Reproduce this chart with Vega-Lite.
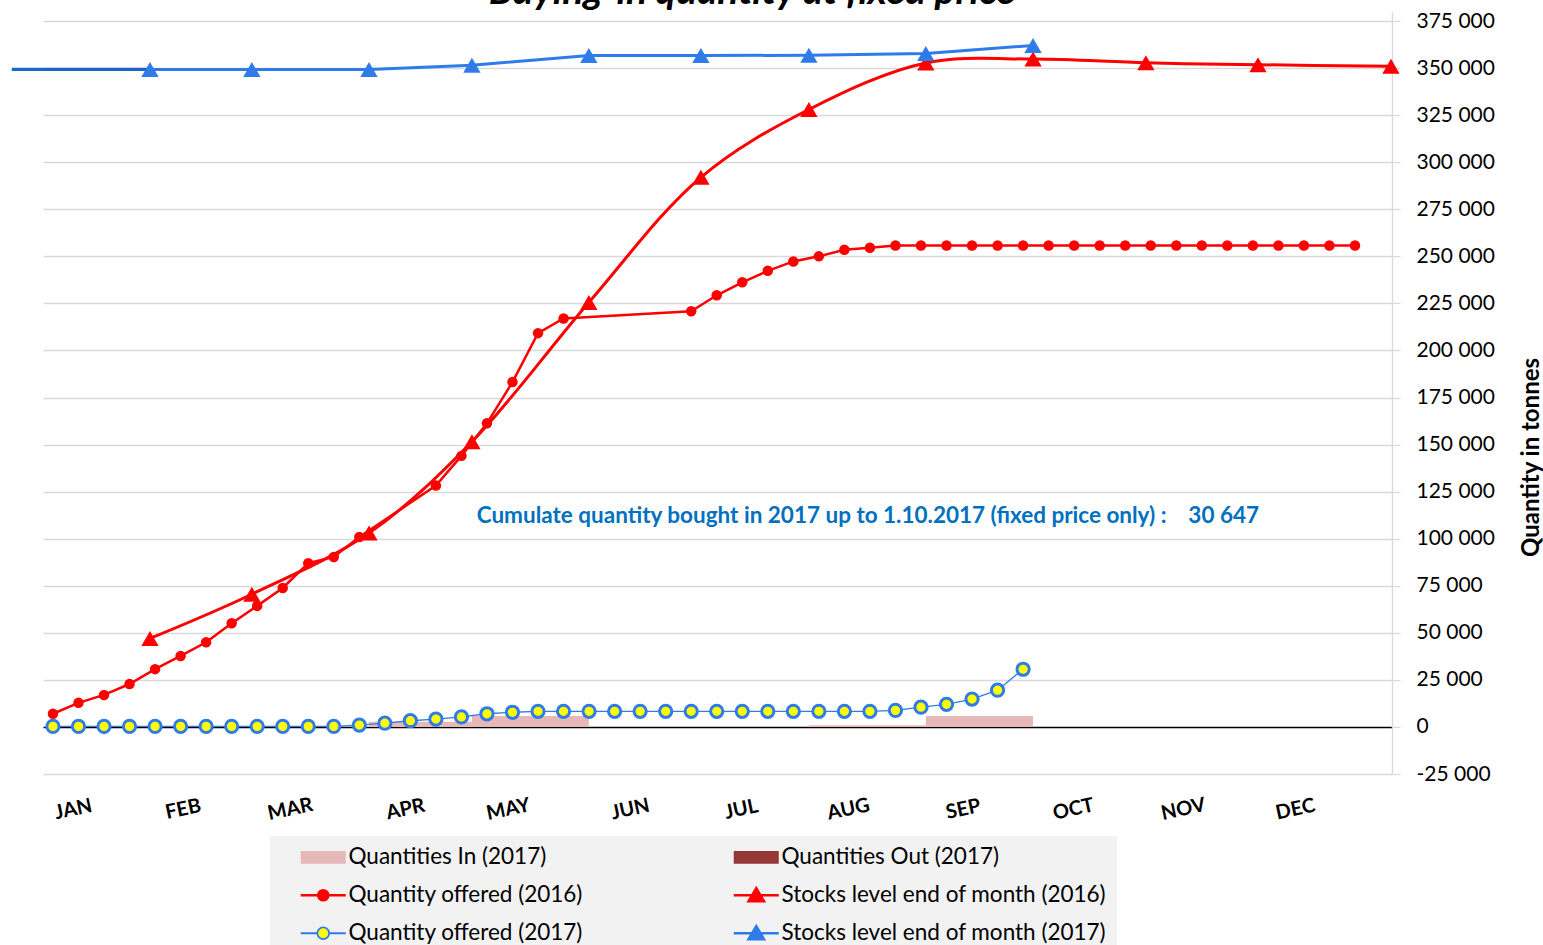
{
  "$schema": "https://vega.github.io/schema/vega-lite/v6.json",
  "autosize": {"type": "none"},
  "width": 1349,
  "height": 762,
  "padding": {"left": 43, "top": 12, "right": 151, "bottom": 171},
  "background": "white",
  "config": {"font": "Lato", "view": {"stroke": null}},
  "datasets": {
    "bars": [
      {"series": "Quantities In (2017)", "w": 13.38, "w2": 17.41, "v": 2700},
      {"series": "Quantities In (2017)", "w": 17.41, "w2": 21.99, "v": 5800},
      {"series": "Quantities In (2017)", "w": 30.61, "w2": 35.19, "v": 900},
      {"series": "Quantities In (2017)", "w": 35.19, "w2": 39.39, "v": 5800}
    ],
    "lines": [
      {"series": "Quantity offered (2016)", "w": 1, "v": 7000},
      {"series": "Quantity offered (2016)", "w": 2, "v": 12800},
      {"series": "Quantity offered (2016)", "w": 3, "v": 17000},
      {"series": "Quantity offered (2016)", "w": 4, "v": 22800},
      {"series": "Quantity offered (2016)", "w": 5, "v": 30700},
      {"series": "Quantity offered (2016)", "w": 6, "v": 37700},
      {"series": "Quantity offered (2016)", "w": 7, "v": 45000},
      {"series": "Quantity offered (2016)", "w": 8, "v": 55100},
      {"series": "Quantity offered (2016)", "w": 9, "v": 64300},
      {"series": "Quantity offered (2016)", "w": 10, "v": 73800},
      {"series": "Quantity offered (2016)", "w": 11, "v": 87000},
      {"series": "Quantity offered (2016)", "w": 12, "v": 90300},
      {"series": "Quantity offered (2016)", "w": 13, "v": 100900},
      {"series": "Quantity offered (2016)", "w": 16, "v": 128200},
      {"series": "Quantity offered (2016)", "w": 17, "v": 144000},
      {"series": "Quantity offered (2016)", "w": 18, "v": 161300},
      {"series": "Quantity offered (2016)", "w": 19, "v": 183200},
      {"series": "Quantity offered (2016)", "w": 20, "v": 209200},
      {"series": "Quantity offered (2016)", "w": 21, "v": 217000},
      {"series": "Quantity offered (2016)", "w": 26, "v": 220800},
      {"series": "Quantity offered (2016)", "w": 27, "v": 229300},
      {"series": "Quantity offered (2016)", "w": 28, "v": 236200},
      {"series": "Quantity offered (2016)", "w": 29, "v": 242300},
      {"series": "Quantity offered (2016)", "w": 30, "v": 247300},
      {"series": "Quantity offered (2016)", "w": 31, "v": 250000},
      {"series": "Quantity offered (2016)", "w": 32, "v": 253500},
      {"series": "Quantity offered (2016)", "w": 33, "v": 254600},
      {"series": "Quantity offered (2016)", "w": 34, "v": 255800},
      {"series": "Quantity offered (2016)", "w": 35, "v": 255800},
      {"series": "Quantity offered (2016)", "w": 36, "v": 255800},
      {"series": "Quantity offered (2016)", "w": 37, "v": 255800},
      {"series": "Quantity offered (2016)", "w": 38, "v": 255800},
      {"series": "Quantity offered (2016)", "w": 39, "v": 255800},
      {"series": "Quantity offered (2016)", "w": 40, "v": 255800},
      {"series": "Quantity offered (2016)", "w": 41, "v": 255800},
      {"series": "Quantity offered (2016)", "w": 42, "v": 255800},
      {"series": "Quantity offered (2016)", "w": 43, "v": 255800},
      {"series": "Quantity offered (2016)", "w": 44, "v": 255800},
      {"series": "Quantity offered (2016)", "w": 45, "v": 255800},
      {"series": "Quantity offered (2016)", "w": 46, "v": 255800},
      {"series": "Quantity offered (2016)", "w": 47, "v": 255800},
      {"series": "Quantity offered (2016)", "w": 48, "v": 255800},
      {"series": "Quantity offered (2016)", "w": 49, "v": 255800},
      {"series": "Quantity offered (2016)", "w": 50, "v": 255800},
      {"series": "Quantity offered (2016)", "w": 51, "v": 255800},
      {"series": "Quantity offered (2016)", "w": 52, "v": 255800},
      {"series": "Stocks level end of month (2016)", "w": 4.80, "v": 47000},
      {"series": "Stocks level end of month (2016)", "w": 8.79, "v": 70500},
      {"series": "Stocks level end of month (2016)", "w": 13.38, "v": 103000},
      {"series": "Stocks level end of month (2016)", "w": 17.41, "v": 151500},
      {"series": "Stocks level end of month (2016)", "w": 21.99, "v": 225500},
      {"series": "Stocks level end of month (2016)", "w": 26.38, "v": 292000},
      {"series": "Stocks level end of month (2016)", "w": 30.61, "v": 328000},
      {"series": "Stocks level end of month (2016)", "w": 35.19, "v": 352700},
      {"series": "Stocks level end of month (2016)", "w": 39.39, "v": 354800},
      {"series": "Stocks level end of month (2016)", "w": 43.81, "v": 352800},
      {"series": "Stocks level end of month (2016)", "w": 48.20, "v": 351800},
      {"series": "Stocks level end of month (2016)", "w": 53.41, "v": 351000},
      {"series": "Quantity offered (2017)", "w": 1, "v": 300},
      {"series": "Quantity offered (2017)", "w": 2, "v": 300},
      {"series": "Quantity offered (2017)", "w": 3, "v": 300},
      {"series": "Quantity offered (2017)", "w": 4, "v": 300},
      {"series": "Quantity offered (2017)", "w": 5, "v": 300},
      {"series": "Quantity offered (2017)", "w": 6, "v": 300},
      {"series": "Quantity offered (2017)", "w": 7, "v": 300},
      {"series": "Quantity offered (2017)", "w": 8, "v": 300},
      {"series": "Quantity offered (2017)", "w": 9, "v": 300},
      {"series": "Quantity offered (2017)", "w": 10, "v": 300},
      {"series": "Quantity offered (2017)", "w": 11, "v": 300},
      {"series": "Quantity offered (2017)", "w": 12, "v": 300},
      {"series": "Quantity offered (2017)", "w": 13, "v": 1000},
      {"series": "Quantity offered (2017)", "w": 14, "v": 2000},
      {"series": "Quantity offered (2017)", "w": 15, "v": 3300},
      {"series": "Quantity offered (2017)", "w": 16, "v": 4200},
      {"series": "Quantity offered (2017)", "w": 17, "v": 5300},
      {"series": "Quantity offered (2017)", "w": 18, "v": 7000},
      {"series": "Quantity offered (2017)", "w": 19, "v": 7800},
      {"series": "Quantity offered (2017)", "w": 20, "v": 8300},
      {"series": "Quantity offered (2017)", "w": 21, "v": 8300},
      {"series": "Quantity offered (2017)", "w": 22, "v": 8300},
      {"series": "Quantity offered (2017)", "w": 23, "v": 8300},
      {"series": "Quantity offered (2017)", "w": 24, "v": 8300},
      {"series": "Quantity offered (2017)", "w": 25, "v": 8300},
      {"series": "Quantity offered (2017)", "w": 26, "v": 8300},
      {"series": "Quantity offered (2017)", "w": 27, "v": 8300},
      {"series": "Quantity offered (2017)", "w": 28, "v": 8300},
      {"series": "Quantity offered (2017)", "w": 29, "v": 8300},
      {"series": "Quantity offered (2017)", "w": 30, "v": 8300},
      {"series": "Quantity offered (2017)", "w": 31, "v": 8300},
      {"series": "Quantity offered (2017)", "w": 32, "v": 8300},
      {"series": "Quantity offered (2017)", "w": 33, "v": 8300},
      {"series": "Quantity offered (2017)", "w": 34, "v": 8800},
      {"series": "Quantity offered (2017)", "w": 35, "v": 10500},
      {"series": "Quantity offered (2017)", "w": 36, "v": 12000},
      {"series": "Quantity offered (2017)", "w": 37, "v": 14800},
      {"series": "Quantity offered (2017)", "w": 38, "v": 19500},
      {"series": "Quantity offered (2017)", "w": 39, "v": 30647},
      {"series": "Stocks level end of month (2017)", "w": -0.61, "v": 349300},
      {"series": "Stocks level end of month (2017)", "w": 4.80, "v": 349300},
      {"series": "Stocks level end of month (2017)", "w": 8.79, "v": 349300},
      {"series": "Stocks level end of month (2017)", "w": 13.38, "v": 349300},
      {"series": "Stocks level end of month (2017)", "w": 17.41, "v": 351500},
      {"series": "Stocks level end of month (2017)", "w": 21.99, "v": 356700},
      {"series": "Stocks level end of month (2017)", "w": 26.38, "v": 356700},
      {"series": "Stocks level end of month (2017)", "w": 30.61, "v": 356800},
      {"series": "Stocks level end of month (2017)", "w": 35.19, "v": 357800},
      {"series": "Stocks level end of month (2017)", "w": 39.39, "v": 362000}
    ]
  },
  "layer": [
    {
      "data": {"name": "bars"},
      "mark": {"type": "rect"},
      "encoding": {
        "x": {
          "field": "w", "type": "quantitative", "title": null,
          "scale": {"domain": [0.61, 53.45], "nice": false, "zero": false},
          "axis": {
            "title": null,
            "values": [1.78, 6.09, 10.28, 14.79, 18.82, 23.6, 27.95, 32.14, 36.64, 40.95, 45.26, 49.65],
            "labelExpr": "datum.value < 4 ? 'JAN' : datum.value < 8 ? 'FEB' : datum.value < 12 ? 'MAR' : datum.value < 16 ? 'APR' : datum.value < 21 ? 'MAY' : datum.value < 25 ? 'JUN' : datum.value < 30 ? 'JUL' : datum.value < 34 ? 'AUG' : datum.value < 38 ? 'SEP' : datum.value < 43 ? 'OCT' : datum.value < 47 ? 'NOV' : 'DEC'",
            "labelAngle": -12, "labelAlign": "center", "labelBaseline": "middle", "labelPadding": 35,
            "labelFontSize": 20, "labelFontWeight": "bold", "labelColor": "#000000", "labelFont": "Lato",
            "domain": false, "ticks": false, "grid": false, "labelOverlap": false, "labelFlush": false, "labelBound": false
          }
        },
        "x2": {"field": "w2"},
        "y": {
          "field": "v", "type": "quantitative", "title": "Quantity in tonnes",
          "scale": {"domain": [-25000, 379800], "nice": false, "zero": false},
          "axis": {
            "orient": "right",
            "values": [-25000, 0, 25000, 50000, 75000, 100000, 125000, 150000, 175000, 200000, 225000, 250000, 275000, 300000, 325000, 350000, 375000],
            "labelExpr": "(datum.value < 0 ? '-' : '') + replace(format(abs(datum.value), ','), regexp(',', 'g'), ' ')",
            "labelFontSize": 21, "labelColor": "#000000", "labelFont": "Lato", "labelPadding": 16,
            "title": "Quantity in tonnes", "titleFontSize": 24, "titleFontWeight": "bold", "titleColor": "#000000", "titleFont": "Lato",
            "titleAngle": -90, "titleX": 139, "titleY": 445, "titleAlign": "center", "titleBaseline": "middle",
            "grid": true,
            "gridColor": {"condition": {"test": "datum.value === 0", "value": "#000000"}, "value": "#d9d9d9"},
            "gridWidth": {"condition": {"test": "datum.value === 0", "value": 1.6}, "value": 1.3},
            "domain": true, "domainColor": "#d9d9d9", "domainWidth": 1.3,
            "ticks": true, "tickColor": "#d9d9d9", "tickSize": 8, "tickWidth": 1.3
          }
        },
        "y2": {"datum": 0},
        "color": {
          "field": "series", "type": "nominal",
          "scale": {
            "domain": ["Quantities In (2017)", "Quantities Out (2017)", "Quantity offered (2016)", "Stocks level end of month (2016)", "Quantity offered (2017)", "Stocks level end of month (2017)"],
            "range": ["#e6b9b8", "#953735", "#ff0000", "#ff0000", "#ffff00", "#2f7bea"]
          },
          "legend": {
            "title": null, "orient": "none", "legendX": 227, "legendY": 824,
            "columns": 2, "direction": "horizontal", "fillColor": "#f2f2f2", "padding": 10,
            "symbolSize": 784, "symbolOffset": 32, "labelOffset": 14,
            "labelFontSize": 22.5, "labelColor": "#000000", "labelFont": "Lato", "labelLimit": 500,
            "columnPadding": 130, "rowPadding": 14,
            "encode": {
              "symbols": {
                "update": {
                  "shape": {"signal": "(datum.value === 'Quantities In (2017)' || datum.value === 'Quantities Out (2017)') ? 'M-1.607,-0.464H1.607V0.464H-1.607Z' : datum.value === 'Quantity offered (2016)' ? 'M-1.607,0H1.607M0.36,0A0.36,0.36,0,1,1,-0.36,0A0.36,0.36,0,1,1,0.36,0Z' : datum.value === 'Quantity offered (2017)' ? 'M-1.607,0H-0.42M0.42,0H1.607M0.42,0A0.42,0.42,0,1,1,-0.42,0A0.42,0.42,0,1,1,0.42,0Z' : 'M-1.607,0H1.607M0,-0.5L0.55,0.42L-0.55,0.42Z'"},
                  "size": {"value": 784},
                  "stroke": {"signal": "datum.value === 'Quantity offered (2017)' ? '#2f7bea' : scale('color', datum.value)"},
                  "strokeWidth": {"signal": "(datum.value === 'Quantities In (2017)' || datum.value === 'Quantities Out (2017)') ? 0 : datum.value === 'Quantity offered (2017)' ? 1.8 : 2.5"},
                  "opacity": {"value": 1},
                  "fillOpacity": {"value": 1},
                  "strokeOpacity": {"value": 1}
                }
              }
            }
          }
        }
      }
    },
    {
      "data": {"name": "lines"},
      "transform": [{"filter": "datum.series === 'Quantity offered (2016)'"}],
      "mark": {"type": "line", "color": "#ff0000", "strokeWidth": 2.5, "point": {"filled": true, "size": 110, "color": "#ff0000", "opacity": 1}},
      "encoding": {
        "x": {"field": "w", "type": "quantitative", "title": null},
        "y": {"field": "v", "type": "quantitative", "title": "Quantity in tonnes"}
      }
    },
    {
      "data": {"name": "lines"},
      "transform": [{"filter": "datum.series === 'Stocks level end of month (2016)'"}],
      "mark": {"type": "line", "color": "#ff0000", "strokeWidth": 3, "interpolate": "catmull-rom", "point": {"shape": "triangle-up", "filled": true, "size": 300, "color": "#ff0000", "opacity": 1}},
      "encoding": {
        "x": {"field": "w", "type": "quantitative", "title": null},
        "y": {"field": "v", "type": "quantitative", "title": "Quantity in tonnes"}
      }
    },
    {
      "data": {"name": "lines"},
      "transform": [{"filter": "datum.series === 'Quantity offered (2017)'"}],
      "mark": {"type": "line", "color": "#2f7bea", "strokeWidth": 1.3},
      "encoding": {
        "x": {"field": "w", "type": "quantitative", "title": null},
        "y": {"field": "v", "type": "quantitative", "title": "Quantity in tonnes"}
      }
    },
    {
      "data": {"name": "lines"},
      "transform": [{"filter": "datum.series === 'Quantity offered (2017)'"}],
      "mark": {"type": "point", "filled": true, "fill": "#ffff00", "stroke": "#2f7bea", "strokeWidth": 3, "size": 150, "opacity": 1, "fillOpacity": 1},
      "encoding": {
        "x": {"field": "w", "type": "quantitative", "title": null},
        "y": {"field": "v", "type": "quantitative", "title": "Quantity in tonnes"}
      }
    },
    {
      "data": {"name": "lines"},
      "transform": [{"filter": "datum.series === 'Stocks level end of month (2017)'"}],
      "mark": {"type": "line", "color": "#2f7bea", "strokeWidth": 3},
      "encoding": {
        "x": {"field": "w", "type": "quantitative", "title": null},
        "y": {"field": "v", "type": "quantitative", "title": "Quantity in tonnes"}
      }
    },
    {
      "data": {"name": "lines"},
      "transform": [{"filter": "datum.series === 'Stocks level end of month (2017)' && datum.w < 5"}],
      "mark": {"type": "line", "color": "#1a68c4", "strokeWidth": 3.2},
      "encoding": {
        "x": {"field": "w", "type": "quantitative", "title": null},
        "y": {"field": "v", "type": "quantitative", "title": "Quantity in tonnes"}
      }
    },
    {
      "data": {"name": "lines"},
      "transform": [{"filter": "datum.series === 'Stocks level end of month (2017)' && datum.w > 0"}],
      "mark": {"type": "point", "shape": "triangle-up", "filled": true, "size": 300, "color": "#2f7bea", "opacity": 1},
      "encoding": {
        "x": {"field": "w", "type": "quantitative", "title": null},
        "y": {"field": "v", "type": "quantitative", "title": "Quantity in tonnes"}
      }
    },
    {
      "data": {"values": [{"label": "Cumulate quantity bought in 2017 up to 1.10.2017 (fixed price only) :\u00a0\u00a0\u00a0\u00a030 647"}]},
      "mark": {"type": "text", "font": "Lato", "fontSize": 22.5, "fontWeight": "bold", "color": "#0070c0", "align": "center", "baseline": "middle"},
      "encoding": {
        "x": {"datum": 32.92, "type": "quantitative", "title": null},
        "y": {"datum": 112000, "type": "quantitative", "title": "Quantity in tonnes"},
        "text": {"field": "label"}
      }
    },
    {
      "data": {"values": [{"label": "Buying-in quantity at fixed price"}]},
      "mark": {"type": "text", "font": "Lato", "fontSize": 39, "fontWeight": "bold", "fontStyle": "italic", "color": "#000000", "align": "center", "baseline": "alphabetic", "clip": false},
      "encoding": {
        "x": {"datum": 28.38, "type": "quantitative", "title": null},
        "y": {"datum": 384050, "type": "quantitative", "title": "Quantity in tonnes"},
        "text": {"field": "label"}
      }
    }
  ]
}
